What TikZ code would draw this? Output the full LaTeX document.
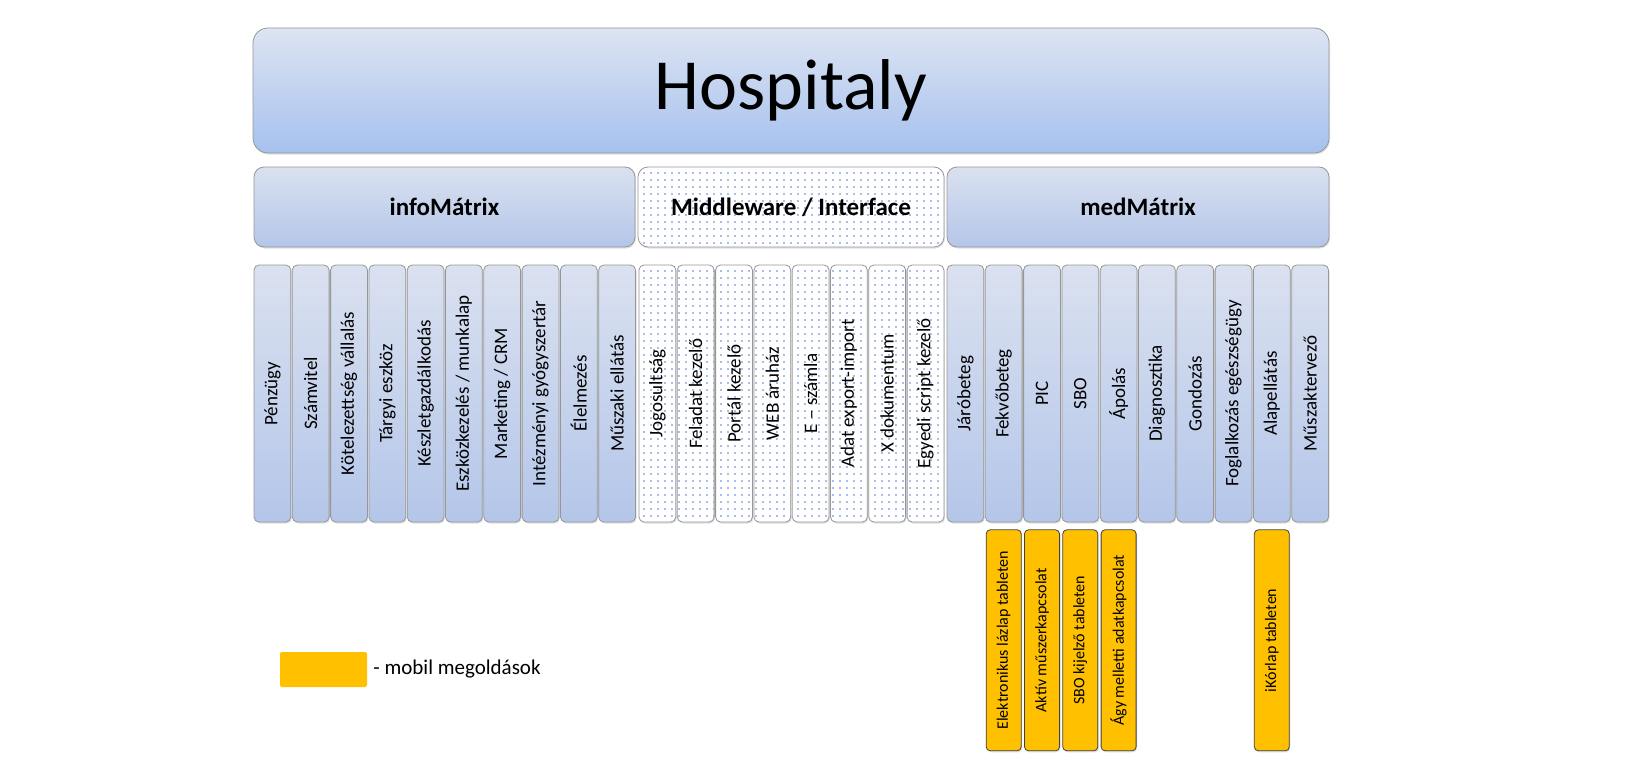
\documentclass[tikz,border=0pt]{standalone}
\usepackage{fontspec}
\setmainfont{Carlito}
\usepackage{tikz}
\usetikzlibrary{positioning,shadows,patterns.meta}

\definecolor{hosptop}{RGB}{221,228,242}
\definecolor{hospbot}{RGB}{166,193,238}
\definecolor{coltop}{RGB}{218,225,240}
\definecolor{colbot}{RGB}{180,198,233}
\definecolor{edgegray}{RGB}{150,150,150}
\definecolor{dotblue}{RGB}{80,125,210}
\definecolor{mobil}{RGB}{255,192,0}

\newcommand{\colfont}{\fontsize{19}{22}\selectfont}
\newcommand{\mobfont}{\fontsize{16}{19}\selectfont}

\begin{document}
\begin{tikzpicture}[x=1pt, y=-1pt,
  shade/.style={drop shadow={opacity=0.25, shadow xshift=1pt, shadow yshift=-1.5pt}},
  blue box/.style={draw=edgegray, line width=0.8pt, top color=coltop, bottom color=colbot, shade},
  dot box/.style={draw=edgegray, line width=0.8pt, fill=white, postaction={pattern={Dots[distance=7pt, radius=0.8pt]}, pattern color=dotblue}, shade},
  head/.style={minimum height=80pt, rounded corners=10pt, inner sep=0pt, font=\fontsize{25}{29}\selectfont\bfseries},
  col/.style={minimum width=36.8pt, minimum height=257pt, rounded corners=5pt, inner sep=0pt, font=\colfont},
  mob/.style={draw=black!75, line width=0.8pt, fill=mobil, minimum width=35pt, minimum height=221pt, rounded corners=4pt, inner sep=0pt, font=\mobfont, shade}]
\useasboundingbox (0,0) rectangle (1640,768);

\node[blue box, top color=hosptop, bottom color=hospbot, minimum width=1076pt, minimum height=125pt, rounded corners=15pt, font=\fontsize{72}{80}\selectfont] (hosp) at (791,90.5) {Hospitaly};

\node[blue box, head, minimum width=381pt] (info) at (444.5,207) {infoMátrix};
\node[dot box, head, minimum width=306pt] (mw) at (791,207) {Middleware / Interface};
\node[blue box, head, minimum width=382pt] (med) at (1138,207) {medMátrix};

\foreach \txt [count=\i] in {Pénzügy, Számvitel, Kötelezettség vállalás, Tárgyi eszköz, Készletgazdálkodás, Eszközkezelés / munkalap, Marketing / CRM, Intézményi gyógyszertár, Élelmezés, Műszaki ellátás}
  \node[blue box, col] (info\i) at ({272.4+38.3*(\i-1)},393.5) {\rotatebox{90}{\txt}};

\foreach \txt [count=\i] in {Jogosultság, Feladat kezelő, Portál kezelő, WEB áruház, E – számla, Adat  export-import, X dokumentum, Egyedi script kezelő}
  \node[dot box, col] (mw\i) at ({657.4+38.3*(\i-1)},393.5) {\rotatebox{90}{\txt}};

\foreach \txt [count=\i] in {Járóbeteg, Fekvőbeteg, PIC, SBO, Ápolás, Diagnosztika, Gondozás, Foglalkozás egészségügy, Alapellátás, Műszaktervező}
  \node[blue box, col] (med\i) at ({965.4+38.3*(\i-1)},393.5) {\rotatebox{90}{\txt}};

\foreach \j/\txt [count=\k] in {2/Elektronikus lázlap tableten, 3/Aktív műszerkapcsolat, 4/SBO kijelző tableten, 5/Ágy melletti adatkapcsolat, 9/iKórlap tableten}
  \node[mob, below=7pt of med\j] (mob\k) {\rotatebox{90}{\txt}};

\node[fill=mobil, minimum width=87pt, minimum height=35pt, rounded corners=2pt] (legbox) at (323.5,669.5) {};
\node[right=6pt of legbox, inner sep=0pt, font=\fontsize{21}{25}\selectfont] (legtext) {- mobil megoldások};
\end{tikzpicture}
\end{document}
